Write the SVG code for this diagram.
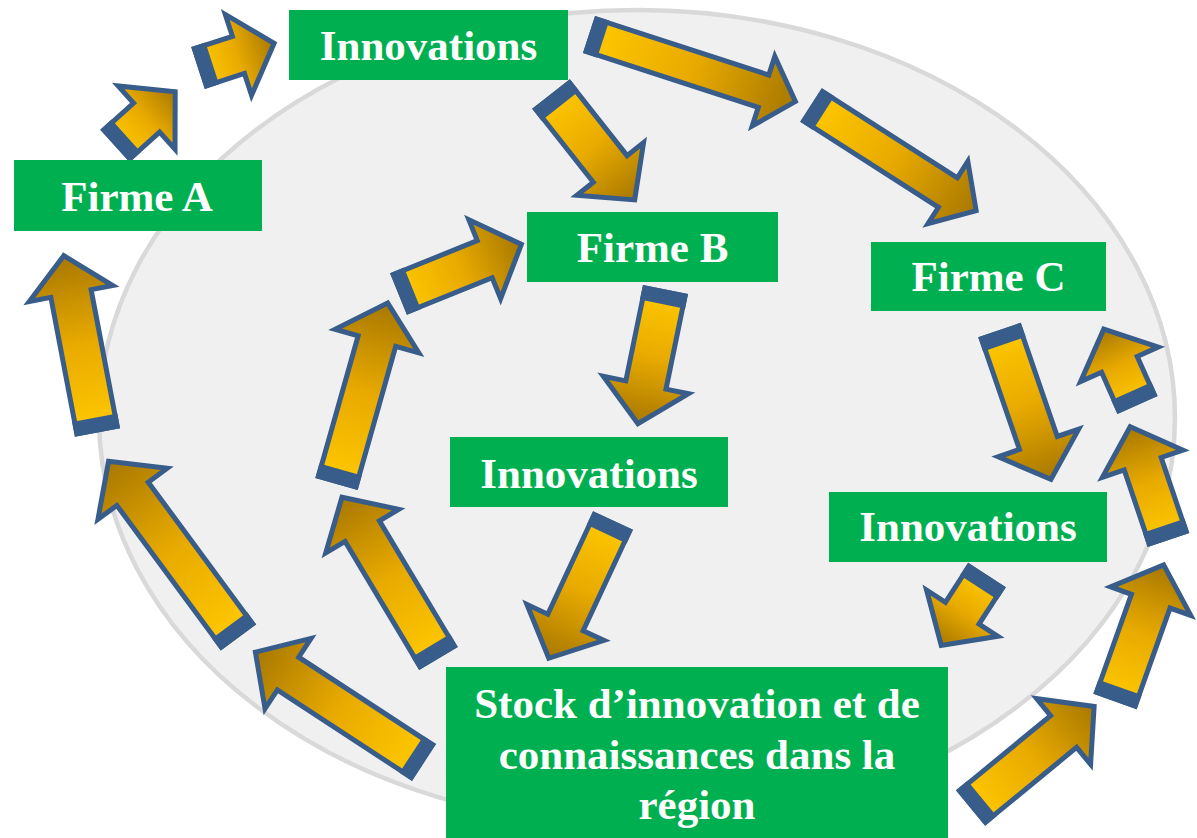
<svg xmlns="http://www.w3.org/2000/svg" width="1197" height="838" viewBox="0 0 1197 838">
<style>
.bg{fill:#F0F0F0;stroke:#D9D9D9;stroke-width:4.5}
.box{fill:#00B050}
.lbl{font-family:"Liberation Serif","Times New Roman",serif;font-weight:bold;font-size:43px;fill:#FFFFFF;text-anchor:middle}
.ar{fill:url(#gold);stroke:#385D8A;stroke-width:5;stroke-linejoin:miter}
.tb{fill:#385D8A}
</style>
<defs>
<linearGradient id="gold" x1="0" y1="0" x2="1" y2="0">
<stop offset="0" stop-color="#FFC800"/>
<stop offset="0.5" stop-color="#E8AA00"/>
<stop offset="1" stop-color="#A87800"/>
</linearGradient>
</defs>
<rect width="1197" height="838" fill="#FFFFFF"/>
<ellipse class="bg" cx="637" cy="418" rx="538" ry="408"/>
<g id="connectors">
<g transform="translate(115,146) rotate(-42)"><path class="ar" d="M2.5,-19.5H42.5V-42.5L81,0L42.5,42.5V19.5H2.5Z"/><rect class="tb" x="0" y="-22" width="15" height="44"/></g>
<g transform="translate(198,68) rotate(-18)"><path class="ar" d="M2.5,-19.5H42.5V-42.5L80,0L42.5,42.5V19.5H2.5Z"/><rect class="tb" x="0" y="-22" width="15" height="44"/></g>
<g transform="translate(589,34.5) rotate(18)"><path class="ar" d="M2.5,-17H183.5V-36.5L217,0L183.5,36.5V17H2.5Z"/><rect class="tb" x="0" y="-19.5" width="15" height="39"/></g>
<g transform="translate(551,94) rotate(51.7)"><path class="ar" d="M2.5,-21.5H95.5V-42.5L135,0L95.5,42.5V21.5H2.5Z"/><rect class="tb" x="0" y="-24" width="15" height="48"/></g>
<g transform="translate(811,105) rotate(32.6)"><path class="ar" d="M2.5,-17.5H162.5V-37L196,0L162.5,37V17.5H2.5Z"/><rect class="tb" x="0" y="-20" width="15" height="40"/></g>
<g transform="translate(665.5,289.5) rotate(101.6)"><path class="ar" d="M2.5,-20.5H97.5V-43.5L137,0L97.5,43.5V20.5H2.5Z"/><rect class="tb" x="0" y="-23" width="15" height="46"/></g>
<g transform="translate(613,520.5) rotate(115)"><path class="ar" d="M2.5,-19.5H112.5V-42.5L152,0L112.5,42.5V19.5H2.5Z"/><rect class="tb" x="0" y="-22" width="15" height="44"/></g>
<g transform="translate(999.5,330) rotate(71)"><path class="ar" d="M2.5,-20H119.5V-42.5L158,0L119.5,42.5V20H2.5Z"/><rect class="tb" x="0" y="-22.5" width="15" height="45"/></g>
<g transform="translate(1137.5,405) rotate(-114)"><path class="ar" d="M2.5,-19.5H44.5V-42.5L83,0L44.5,42.5V19.5H2.5Z"/><rect class="tb" x="0" y="-22" width="15" height="44"/></g>
<g transform="translate(1168.5,540) rotate(-108.7)"><path class="ar" d="M2.5,-19.5H80.5V-42.5L119.5,0L80.5,42.5V19.5H2.5Z"/><rect class="tb" x="0" y="-22" width="15" height="44"/></g>
<g transform="translate(987,575) rotate(123)"><path class="ar" d="M2.5,-20H45.5V-42.5L84,0L45.5,42.5V20H2.5Z"/><rect class="tb" x="0" y="-22.5" width="15" height="45"/></g>
<g transform="translate(970.5,808) rotate(-39.4)"><path class="ar" d="M2.5,-20.5H120.5V-42.5L160,0L120.5,42.5V20.5H2.5Z"/><rect class="tb" x="0" y="-23" width="15" height="46"/></g>
<g transform="translate(1115,701.5) rotate(-70.4)"><path class="ar" d="M2.5,-20.5H106.5V-42.5L145,0L106.5,42.5V20.5H2.5Z"/><rect class="tb" x="0" y="-23" width="15" height="46"/></g>
<g transform="translate(97.5,432.5) rotate(-100.8)"><path class="ar" d="M2.5,-20.5H141.5V-42.5L180,0L141.5,42.5V20.5H2.5Z"/><rect class="tb" x="0" y="-23" width="15" height="46"/></g>
<g transform="translate(238.5,637.5) rotate(-126.4)"><path class="ar" d="M2.5,-19.5H178.5V-43L219,0L178.5,43V19.5H2.5Z"/><rect class="tb" x="0" y="-22" width="15" height="44"/></g>
<g transform="translate(424,762.5) rotate(-146.8)"><path class="ar" d="M2.5,-19.5H162.5V-42L201.5,0L162.5,42V19.5H2.5Z"/><rect class="tb" x="0" y="-22" width="15" height="44"/></g>
<g transform="translate(438.5,658.5) rotate(-120.9)"><path class="ar" d="M2.5,-20H148.5V-42.5L188,0L148.5,42.5V20H2.5Z"/><rect class="tb" x="0" y="-22.5" width="15" height="45"/></g>
<g transform="translate(336.5,484) rotate(-74.2)"><path class="ar" d="M2.5,-19.5H148.5V-43.5L188,0L148.5,43.5V19.5H2.5Z"/><rect class="tb" x="0" y="-22" width="15" height="44"/></g>
<g transform="translate(398.5,294) rotate(-22)"><path class="ar" d="M2.5,-20H93V-42.5L132.5,0L93,42.5V20H2.5Z"/><rect class="tb" x="0" y="-22.5" width="15" height="45"/></g>
</g>
<g id="innov-top"><rect class="box" x="289" y="10" width="279" height="70"/><text class="lbl" x="428.5" y="60">Innovations</text></g>
<g id="firme-a"><rect class="box" x="14" y="160" width="248" height="71"/><text class="lbl" x="137" y="211">Firme A</text></g>
<g id="firme-b"><rect class="box" x="527" y="212" width="251" height="70"/><text class="lbl" x="652.5" y="262">Firme B</text></g>
<g id="firme-c"><rect class="box" x="871" y="242" width="235" height="69"/><text class="lbl" x="988.5" y="291">Firme C</text></g>
<g id="innov-mid"><rect class="box" x="450" y="437" width="278" height="70"/><text class="lbl" x="589" y="488">Innovations</text></g>
<g id="innov-right"><rect class="box" x="829" y="492" width="278" height="70"/><text class="lbl" x="968" y="541">Innovations</text></g>
<g id="stock"><rect class="box" x="446" y="667" width="502" height="171"/>
<text class="lbl" x="697" y="718">Stock d’innovation et de</text>
<text class="lbl" x="697" y="769">connaissances dans la</text>
<text class="lbl" x="697" y="819">région</text></g>
</svg>
